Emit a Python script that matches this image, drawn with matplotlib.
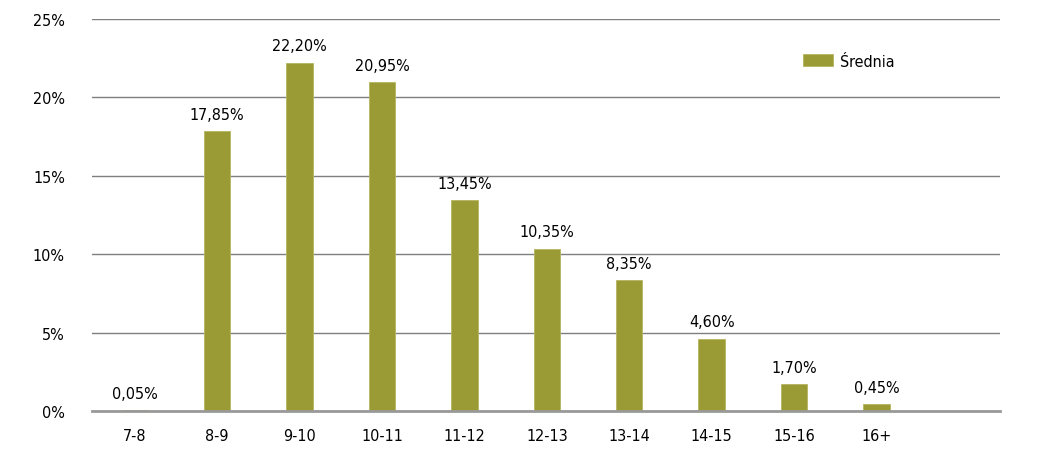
import matplotlib.pyplot as plt
import numpy as np

plt.rcParams['font.family'] = ['DejaVu Sans']
plt.rcParams['font.stretch'] = 'condensed'

categories = ['7-8', '8-9', '9-10', '10-11', '11-12', '12-13', '13-14', '14-15', '15-16', '16+']
values = [0.05, 17.85, 22.20, 20.95, 13.45, 10.35, 8.35, 4.60, 1.70, 0.45]
yticks = [0, 5, 10, 15, 20, 25]

bar_color = '#9a9b35'

fig = plt.figure(figsize=(10.45, 4.52), dpi=100)
ax = fig.add_axes([0.088, 0.0885, 0.869, 0.8675])

x = np.arange(len(categories))
ax.bar(x, values, width=0.32, color=bar_color, edgecolor='#b5b560', linewidth=0.6,
       label='Średnia', zorder=3)

for xi, v in zip(x, values):
    ax.text(xi, v + 0.6, f'{v:.2f}%'.replace('.', ','), ha='center', va='bottom',
            fontsize=11.5)

ax.set_xlim(-0.52, 10.5)
ax.set_ylim(0, 25)
ax.set_yticks(yticks)
ax.set_yticklabels([f'{t}%' for t in yticks], fontsize=11.5)
ax.set_xticks(x)
ax.set_xticklabels(categories, fontsize=11.5)
ax.tick_params(axis='both', length=0)
ax.tick_params(axis='y', pad=19.5)
ax.tick_params(axis='x', pad=12.5)

ax.grid(axis='y', color='#7f7f7f', linewidth=1, zorder=0)
for s in ['top', 'right', 'left']:
    ax.spines[s].set_visible(False)
ax.spines['bottom'].set_color('#999999')
ax.spines['bottom'].set_linewidth(2)
ax.spines['bottom'].set_zorder(4)

ax.legend(loc='upper left', bbox_to_anchor=(0.767, 0.948), frameon=False, fontsize=11.5,
          handlelength=1.9, handleheight=0.7, handletextpad=0.4)

fig.savefig('out.png', dpi=100)
